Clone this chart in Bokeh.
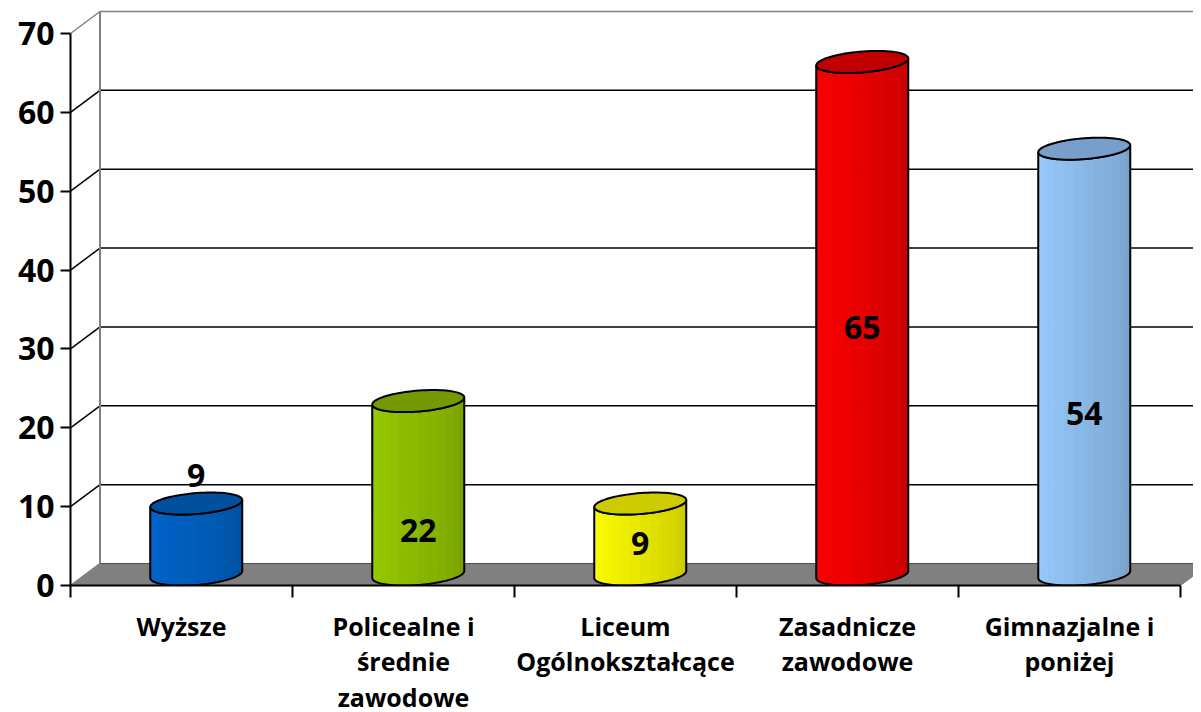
import math
from bokeh.plotting import figure
from bokeh.models import FixedTicker, ColumnDataSource
from bokeh.core.properties import value
from bokeh.embed import file_html
from bokeh.resources import INLINE

# ---------------- data ----------------
categories = ["Wyższe", "Policealne i\nśrednie\nzawodowe", "Liceum\nOgólnokształcące",
              "Zasadnicze\nzawodowe", "Gimnazjalne i\nponiżej"]
values = [9, 22, 9, 65, 54]
y_ticks = [0, 10, 20, 30, 40, 50, 60, 70]
side_colors = ["#0066CC", "#99CC00", "#FFFF00", "#FF0000", "#99CCFF"]
top_colors = ["#00509E", "#739A00", "#CCCC00", "#C00000", "#789FCC"]
# label vertical placement (style): data-unit y centre of each value label
label_y = [13.9, 7.0, 5.3, 32.7, 21.8]

# ---------------- geometry / style ----------------
PXX = 222.0            # px per category
PXY = 552.0 / 70.0     # px per value unit
FRAME_W, FRAME_H = 1123, 577
DX = 29.5 / PXX        # 3D depth offset (x, data units)
DY = 22.0 / PXY        # 3D depth offset (y, data units)
X_END = FRAME_W / PXX
Y_END = FRAME_H / PXY
FONT = value("Open Sans")

p = figure(frame_width=FRAME_W, frame_height=FRAME_H, output_backend="svg",
           toolbar_location=None, x_range=(0, X_END), y_range=(0, Y_END),
           min_border_left=70, min_border_top=8, min_border_right=0, min_border_bottom=0)
p.xgrid.visible = False
p.ygrid.visible = False
p.outline_line_color = None
p.background_fill_color = "white"

n = len(values)

# floor
p.patch([0, n, n + DX, DX], [0, 0, DY, DY], fill_color="#808080", line_color="#808080")
p.line([DX, X_END], [DY, DY], line_color="#505050", line_width=1)

# back wall gridlines + left wall diagonals
for t in y_ticks[1:]:
    col = "#808080" if t == y_ticks[-1] else "black"
    p.segment(x0=[DX], y0=[t + DY], x1=[X_END], y1=[t + DY], line_color=col, line_width=1.5)
    p.segment(x0=[0], y0=[t], x1=[DX], y1=[t + DY], line_color=col, line_width=1.5)
p.segment(x0=[0], y0=[0], x1=[DX], y1=[DY], line_color="#808080", line_width=1.5)
p.segment(x0=[DX], y0=[DY], x1=[DX], y1=[y_ticks[-1] + DY], line_color="#808080", line_width=2)

# cylinders
half_w_px = 46.0
bx = DX / 2.0
a = math.sqrt((half_w_px / PXX) ** 2 - bx ** 2)
by = DY / 2.0
t0 = math.atan2(bx, a)
NSTRIP = 14


def shade(hexc, f):
    r, g, b = int(hexc[1:3], 16), int(hexc[3:5], 16), int(hexc[5:7], 16)
    return "#%02x%02x%02x" % (int(r * f), int(g * f), int(b * f))


for i, v in enumerate(values):
    cx = i + 0.5 + DX / 2.0
    yb = by
    yt = v + by

    def pt(t, yc):
        return cx + a * math.cos(t) + bx * math.sin(t), yc + by * math.sin(t)

    ts = [t0 - math.pi + math.pi * k / NSTRIP for k in range(NSTRIP + 1)]
    xs, ys, cols = [], [], []
    for k in range(NSTRIP):
        tt = [ts[k] + (ts[k + 1] - ts[k]) * j / 4 for j in range(5)]
        bot = [pt(t, yb) for t in tt]
        top = [pt(t, yt) for t in tt[::-1]]
        pts = bot + top
        xs.append([q[0] for q in pts])
        ys.append([q[1] for q in pts])
        frac = k / (NSTRIP - 1)
        cols.append(shade(side_colors[i], 1.0 - 0.22 * frac ** 1.2))
    p.patches(xs, ys, fill_color=cols, line_color=cols, line_width=1)

    # outline of side
    fine = [t0 - math.pi + math.pi * k / 60 for k in range(61)]
    ob = [pt(t, yb) for t in fine]
    ot = [pt(t, yt) for t in fine[::-1]]
    o = ob + ot
    p.patch([q[0] for q in o], [q[1] for q in o], fill_color=None, line_color="black", line_width=2)

    # top ellipse
    full = [2 * math.pi * k / 80 for k in range(81)]
    e = [pt(t, yt) for t in full]
    p.patch([q[0] for q in e], [q[1] for q in e], fill_color=top_colors[i],
            line_color="black", line_width=2)

# value labels
src = ColumnDataSource(dict(x=[i + 0.5 + DX / 2.0 for i in range(n)], y=label_y,
                            t=[str(v) for v in values]))
p.text(x="x", y="y", text="t", source=src, text_font=FONT, text_font_style="bold",
       text_font_size="32px", text_align="center", text_baseline="middle", text_color="black")

# y axis
ya = p.yaxis[0]
ya.ticker = FixedTicker(ticks=y_ticks, minor_ticks=[])
ya.bounds = (0, y_ticks[-1])
ya.axis_line_width = 2
ya.axis_line_color = "black"
ya.major_tick_out = 10
ya.major_tick_in = 0
ya.major_tick_line_width = 2
ya.major_tick_line_color = "black"
ya.minor_tick_out = 0
ya.minor_tick_in = 0
ya.major_label_standoff = 6
ya.major_label_text_font = "Open Sans"
ya.major_label_text_font_style = "bold"
ya.major_label_text_font_size = "32px"
ya.major_label_text_color = "black"

# x axis
xa = p.xaxis[0]
centers = [i + 0.5 for i in range(n)]
xa.ticker = FixedTicker(ticks=centers, minor_ticks=list(range(n + 1)))
xa.bounds = (0, n)
xa.major_label_overrides = {c: lab for c, lab in zip(centers, categories)}
xa.axis_line_width = 2
xa.axis_line_color = "black"
xa.major_tick_out = 0
xa.major_tick_in = 0
xa.minor_tick_out = 12
xa.minor_tick_in = 0
xa.minor_tick_line_width = 2
xa.minor_tick_line_color = "black"
xa.major_label_standoff = 11
xa.major_label_text_font = "Open Sans"
xa.major_label_text_font_style = "bold"
xa.major_label_text_font_size = "25px"
xa.major_label_text_color = "black"
xa.major_label_text_line_height = 1.05

open("out.html", "w").write(file_html(p, INLINE))
